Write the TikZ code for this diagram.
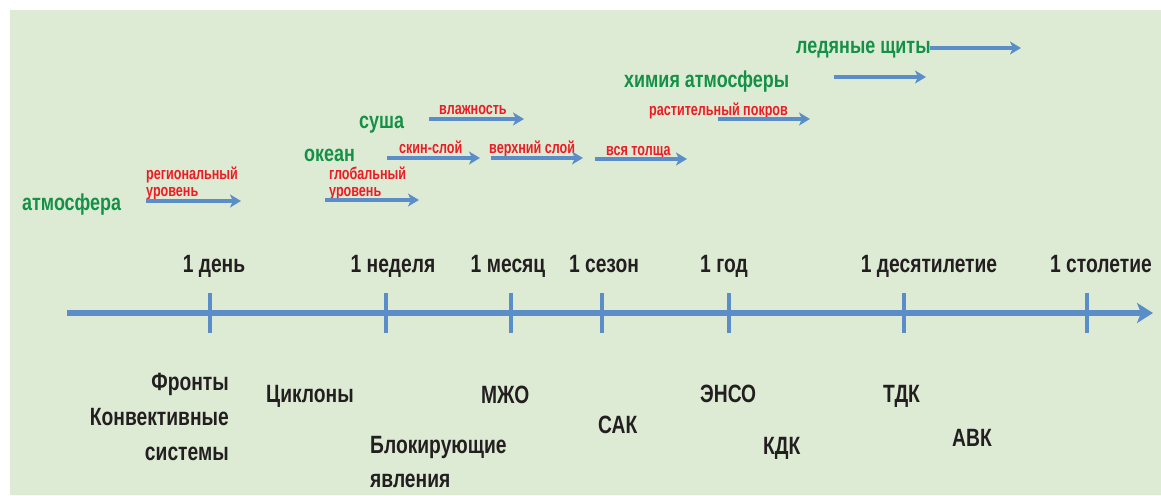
\documentclass[tikz,border=0pt]{standalone}
\usepackage{fontspec}
\setmainfont{Liberation Sans}
\newfontfamily\blkf{Liberation Sans}[FakeStretch=0.77]
\newfontfamily\grnf{Liberation Sans}[FakeStretch=0.78]
\newfontfamily\redf{Liberation Sans}[FakeStretch=0.74]
\usetikzlibrary{arrows.meta}
\definecolor{bgcol}{RGB}{221,235,212}
\definecolor{axblue}{RGB}{91,141,201}
\definecolor{grn}{RGB}{20,145,70}
\definecolor{rd}{RGB}{237,28,36}
\definecolor{txtblack}{RGB}{35,31,32}
\tikzset{
  lbl/.style={inner sep=0pt, text=txtblack, font=\blkf\bfseries\fontsize{25}{35}\selectfont},
  axlbl/.style={lbl, anchor=base},
  comp/.style={inner sep=0pt, text=grn, font=\grnf\bfseries\fontsize{23}{27}\selectfont, anchor=base west},
  sub/.style={inner sep=0pt, text=rd, font=\redf\bfseries\fontsize{17}{17}\selectfont, anchor=base west, align=left},
  flow/.style={draw=axblue, line width=4pt, -{Stealth[length=11pt,width=13pt,inset=3pt]}},
  axisline/.style={draw=axblue, line width=6pt, -{Stealth[length=16pt,width=20pt,inset=4pt]}},
  tickmark/.style={draw=axblue, line width=4pt},
}
\begin{document}
\begin{tikzpicture}[x=1pt,y=-1pt]
\useasboundingbox (0,0) rectangle (1161,495);
\fill[bgcol] (10,10) rectangle (1161,495);

% time axis
\coordinate (ax0) at (67,313);
\coordinate (ax1) at (1153,313);
\draw[axisline] (ax0) -- (ax1);
\foreach \n/\x in {a/210,b/386,c/511,d/602,e/729,f/904,g/1087}{
  \coordinate (t\n top) at (\x,293);
  \coordinate (t\n bot) at (\x,333);
  \draw[tickmark] (t\n top) -- (t\n bot);
}

% axis labels
\node[axlbl] (lday)    at (214,272) {1 день};
\node[axlbl] (lweek)   at (393,272) {1 неделя};
\node[axlbl] (lmonth)  at (508,272) {1 месяц};
\node[axlbl] (lseason) at (604,272) {1 сезон};
\node[axlbl] (lyear)   at (724,272) {1 год};
\node[axlbl] (ldecade) at (929,272) {1 десятилетие};
\node[axlbl] (lcent)   at (1101,272) {1 столетие};

% components
\node[comp] (atm)  at (22,210)  {атмосфера};
\node[comp] (ocn)  at (304,161) {океан};
\node[comp] (land) at (359,128) {суша};
\node[comp] (chem) at (624,88)  {химия атмосферы};
\node[comp] (ice)  at (796,54)  {ледяные щиты};

% sub-components (base = last line)
\node[sub] (reg)   at (146,196) {региональный\\уровень};
\node[sub] (glob)  at (329,196) {глобальный\\уровень};
\node[sub] (skin)  at (399,153) {скин-слой};
\node[sub] (upper) at (489,153) {верхний слой};
\node[sub] (whole) at (606,155) {вся толща};
\node[sub] (wet)   at (439,114) {влажность};
\node[sub] (veg)   at (649,115) {растительный покров};

% flow arrows
\coordinate (reg0) at (146,201);   \coordinate (reg1) at (241,201);
\coordinate (glob0) at (325,200);  \coordinate (glob1) at (419,200);
\coordinate (skin0) at (387,158);  \coordinate (skin1) at (480,158);
\coordinate (upp0) at (491,158);   \coordinate (upp1) at (583,158);
\coordinate (whl0) at (595,159);   \coordinate (whl1) at (687,159);
\coordinate (wet0) at (429,119);   \coordinate (wet1) at (524,119);
\coordinate (veg0) at (718,119);   \coordinate (veg1) at (810,119);
\coordinate (chm0) at (834,77);    \coordinate (chm1) at (926,77);
\coordinate (ice0) at (930,48);    \coordinate (ice1) at (1021,48);
\draw[flow] (reg0) -- (reg1);
\draw[flow] (glob0) -- (glob1);
\draw[flow] (skin0) -- (skin1);
\draw[flow] (upp0) -- (upp1);
\draw[flow] (whl0) -- (whl1);
\draw[flow] (wet0) -- (wet1);
\draw[flow] (veg0) -- (veg1);
\draw[flow] (chm0) -- (chm1);
\draw[flow] (ice0) -- (ice1);

% phenomena (base = last line)
\node[lbl, anchor=base east, align=right] (fronts) at (229,460) {Фронты\\Конвективные\\системы};
\node[lbl, anchor=base west] (cycl) at (266,402) {Циклоны};
\node[lbl, anchor=base west] (mjo)  at (481,403) {МЖО};
\node[lbl, anchor=base west, align=left, font=\blkf\bfseries\fontsize{25}{34}\selectfont] (block) at (370,487) {Блокирующие\\явления};
\node[lbl, anchor=base west] (sak)  at (598,433) {САК};
\node[lbl, anchor=base west] (enso) at (700,402) {ЭНСО};
\node[lbl, anchor=base west] (kdk)  at (763,454) {КДК};
\node[lbl, anchor=base west] (tdk)  at (883,402) {ТДК};
\node[lbl, anchor=base west] (avk)  at (952,446) {АВК};
\end{tikzpicture}
\end{document}
